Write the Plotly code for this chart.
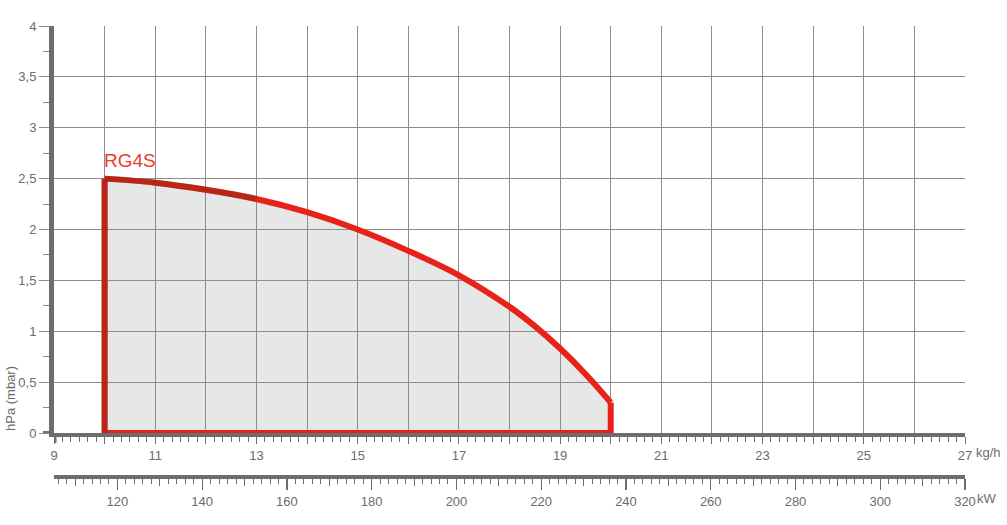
import plotly.graph_objects as go

# ---------------- data ----------------
series_name = "RG4S"
flow_kgh = [10, 11, 12, 13, 14, 15, 16, 17, 18, 18.5, 19, 19.5, 20]
pressure_hpa = [2.5, 2.46, 2.39, 2.30, 2.17, 2.0, 1.79, 1.55, 1.24, 1.05, 0.83, 0.58, 0.30]
flow_min = 10
flow_max = 20
pressure_base = 0

kgh_range = [9, 27]
kgh_ticks = list(range(9, 28))
kgh_labels = [str(v) if v % 2 == 1 else "" for v in kgh_ticks]
kw_ticks = list(range(120, 321, 20))
kw_mid_ticks = list(range(110, 320, 20))
kw_per_kgh = 320 / 27
hpa_ticks = [0, 0.5, 1, 1.5, 2, 2.5, 3, 3.5, 4]
hpa_labels = ["0", "0,5", "1", "1,5", "2", "2,5", "3", "3,5", "4"]

# ---------------- layout geometry ----------------
W, H = 1007, 525
ML, MR, MT, MB = 40, 42, 26, 48
pw = W - ML - MR
ph = H - MT - MB
main_x0 = 54
x_dom = [(main_x0 - ML) / pw, 1]
y_dom = [44 / ph, 1]
kw_line_start = 47
kw_dom = [(kw_line_start - ML) / pw, 1]
px_per_kw = (W - MR - main_x0) / ((kgh_range[1] - kgh_range[0]) * kw_per_kgh)
kw_range = [kgh_range[0] * kw_per_kgh - (main_x0 - kw_line_start) / px_per_kw,
            kgh_range[1] * kw_per_kgh]

FONT = "Liberation Sans, Arial, sans-serif"
TXT = "#6c6c6c"
GRID = "#8c8c8c"
AXIS = "#6b6e6e"
RED = "#e8221a"
TINT = "rgba(110,45,20,0.40)"
LW = 6

fig = go.Figure()

# filled working area
poly_x = [flow_min] + flow_kgh + [flow_max, flow_min]
poly_y = [pressure_base] + pressure_hpa + [pressure_base, pressure_base]
fig.add_trace(go.Scatter(x=poly_x, y=poly_y, mode="lines", fill="toself",
                         fillcolor="rgba(140,150,150,0.22)",
                         line=dict(width=0), hoverinfo="skip", showlegend=False))

# straight parts of the outline
fig.add_trace(go.Scatter(
    x=[flow_kgh[-1], flow_max, flow_min, flow_min],
    y=[pressure_hpa[-1], pressure_base, pressure_base, pressure_hpa[0]],
    mode="lines", line=dict(color=RED, width=LW), showlegend=False, hoverinfo="skip"))

# curve
fig.add_trace(go.Scatter(x=flow_kgh, y=pressure_hpa, mode="lines",
                         line=dict(color=RED, width=LW, shape="spline"),
                         name=series_name, showlegend=False))

# darker tint on the left part
fig.add_trace(go.Scatter(x=[flow_min, flow_min], y=[pressure_base, pressure_hpa[0]],
                         mode="lines", line=dict(color=TINT, width=LW),
                         showlegend=False, hoverinfo="skip"))
fig.add_trace(go.Scatter(x=flow_kgh[:4], y=pressure_hpa[:4], mode="lines",
                         line=dict(color=TINT, width=LW, shape="spline"),
                         showlegend=False, hoverinfo="skip"))

# secondary (kW) axis helper traces
fig.add_trace(go.Scatter(x=[kw_ticks[0]], y=[None], xaxis="x2", yaxis="y",
                         showlegend=False, hoverinfo="skip"))
fig.add_trace(go.Scatter(x=[kw_ticks[0]], y=[None], xaxis="x3", yaxis="y",
                         showlegend=False, hoverinfo="skip"))

tickfont = dict(family=FONT, size=13, color=TXT)

fig.update_layout(
    width=W, height=H,
    margin=dict(l=ML, r=MR, t=MT, b=MB, pad=0),
    paper_bgcolor="white", plot_bgcolor="white",
    template="none",
    showlegend=False,
    xaxis=dict(
        domain=x_dom, range=kgh_range, anchor="y",
        tickmode="array", tickvals=kgh_ticks, ticktext=kgh_labels,
        showgrid=True, gridcolor=GRID, gridwidth=1, zeroline=False,
        showline=True, linecolor=AXIS, linewidth=4, layer="below traces",
        ticks="outside", ticklen=7, tickwidth=1, tickcolor=AXIS,
        minor=dict(tick0=9, dtick=1 / 6, ticks="outside", ticklen=5,
                   tickcolor=AXIS, tickwidth=1, showgrid=False),
        tickfont=tickfont, automargin=False, fixedrange=True,
    ),
    xaxis2=dict(
        domain=kw_dom, range=kw_range, anchor="free", position=0,
        overlaying="x", side="bottom",
        tickmode="array", tickvals=kw_ticks, ticktext=[str(v) for v in kw_ticks],
        showgrid=False, zeroline=False,
        showline=True, linecolor=AXIS, linewidth=4,
        ticks="outside", ticklen=11, tickwidth=1.2, tickcolor=AXIS,
        minor=dict(tick0=0, dtick=2, ticks="outside", ticklen=5,
                   tickcolor=AXIS, tickwidth=1, showgrid=False),
        tickfont=tickfont, automargin=False, fixedrange=True,
    ),
    xaxis3=dict(
        domain=kw_dom, range=kw_range, anchor="free", position=0,
        overlaying="x", side="bottom",
        tickmode="array", tickvals=kw_mid_ticks, showticklabels=False,
        showgrid=False, zeroline=False, showline=False,
        ticks="outside", ticklen=8, tickwidth=1, tickcolor=AXIS,
        automargin=False, fixedrange=True,
    ),
    yaxis=dict(
        domain=y_dom, range=[0, 4], anchor="x",
        tickmode="array", tickvals=hpa_ticks, ticktext=hpa_labels,
        showgrid=True, gridcolor=GRID, gridwidth=1, zeroline=False,
        showline=True, linecolor=AXIS, linewidth=5,
        ticks="outside", ticklen=10, tickwidth=1, tickcolor=GRID,
        minor=dict(tick0=0, dtick=0.25, ticks="outside", ticklen=6,
                   tickcolor=GRID, tickwidth=1, showgrid=False),
        tickfont=tickfont, automargin=False, fixedrange=True,
    ),
    shapes=[
        # axis line extensions
        dict(type="line", xref="x domain", yref="y", x0=-11 / (W - MR - main_x0), x1=0,
             y0=0, y1=0, line=dict(color=AXIS, width=4), layer="below"),
        dict(type="line", xref="x", yref="y domain", x0=kgh_range[0], x1=kgh_range[0],
             y0=-10 / (ph * (1 - y_dom[0])), y1=0, line=dict(color=AXIS, width=5)),
    ],
    annotations=[
        dict(text=series_name, x=flow_min, y=pressure_hpa[0], xref="x", yref="y",
             xanchor="left", yanchor="bottom", yshift=6, xshift=-3, showarrow=False,
             font=dict(family=FONT, size=19, color="#ee3b2b")),
        dict(text="kg/h", x=kgh_range[1], y=0, xref="x", yref="y", xanchor="left",
             yanchor="middle", xshift=9, yshift=-19, showarrow=False, font=tickfont),
        dict(text="kW", x=kw_ticks[-1], y=0, xref="x2", yref="paper", xanchor="left",
             yanchor="middle", xshift=10, yshift=-21, showarrow=False, font=tickfont),
        dict(text="hPa (mbar)", x=0, y=0, xref="paper", yref="y", textangle=-90,
             xanchor="center", yanchor="middle", xshift=-30, yshift=34,
             showarrow=False, font=tickfont),
    ],
)

fig.write_html("out.html", config={"displayModeBar": False, "staticPlot": True},
               post_script="document.body.style.margin='0';document.body.style.overflow='hidden';")
